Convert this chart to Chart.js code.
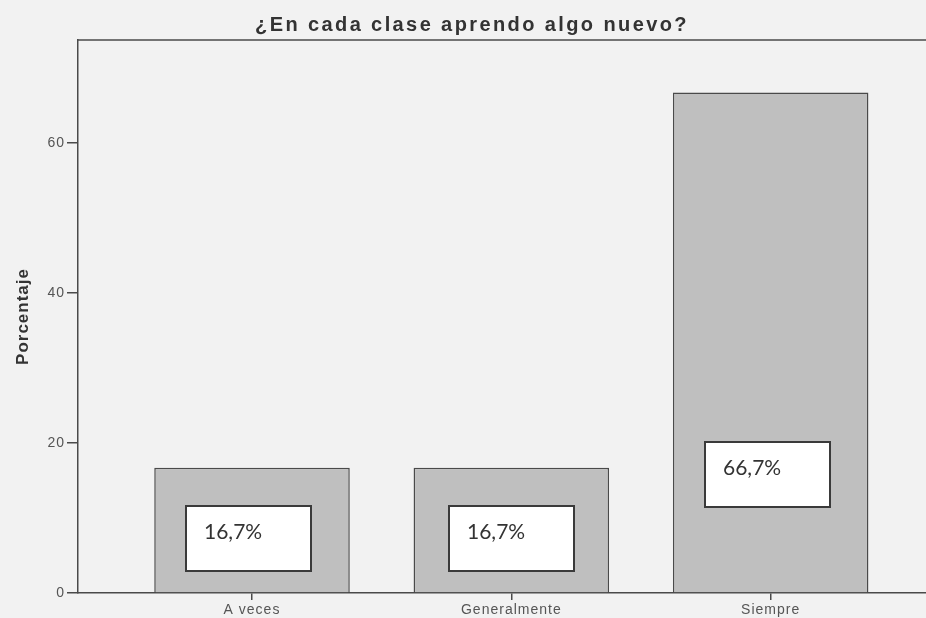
<!DOCTYPE html>
<html>
<head>
<meta charset="utf-8">
<script src="https://cdn.jsdelivr.net/npm/chart.js@4.4.1/dist/chart.umd.min.js"></script>
<style>
  html, body { margin: 0; padding: 0; background: #f2f2f2; }
  canvas { display: block; }
</style>
</head>
<body>
<canvas id="c" width="926" height="618"></canvas>
<script>
// ---- data ----
const chartTitle = '¿En cada clase aprendo algo nuevo?';
const yAxisTitle = 'Porcentaje';
const categories = ['A veces', 'Generalmente', 'Siempre'];
const percentages = [16.7, 16.7, 66.7];
const yTickValues = [0, 20, 40, 60];

// ---- label box placement (axis units / px), kept separate from data ----
const labelBox = {
  width: 125, height: 65, textInset: 18, baselineOffset: 33,
  centerValues: [7.3, 7.3, 15.8],
  shiftPx: [-4, 0, -3]
};

const FONT = "'Liberation Sans', Arial, Helvetica, sans-serif";
const LINE = '#4a4a4a';

const fmt = v => v.toFixed(1).replace('.', ',') + '%';

const framePlugin = {
  id: 'frame',
  afterInit(chart) {
    const tb = chart.titleBlock;
    if (tb) {
      const orig = tb.draw.bind(tb);
      tb.draw = function (area) {
        const ctx = chart.ctx;
        ctx.save();
        ctx.letterSpacing = '2.4px';
        orig(area);
        ctx.restore();
      };
    }
  },
  beforeDraw(chart) {
    chart.ctx.letterSpacing = '1px';
  },
  afterDraw(chart) {
    const ctx = chart.ctx;
    const a = chart.chartArea;
    ctx.save();
    ctx.strokeStyle = LINE;
    ctx.lineWidth = 1.5;
    ctx.beginPath();
    ctx.moveTo(a.left, a.top);
    ctx.lineTo(a.right, a.top);
    ctx.stroke();

    // percentage boxes
    ctx.letterSpacing = '0px';
    const meta = chart.getDatasetMeta(0);
    const ys = chart.scales.y;
    meta.data.forEach((el, i) => {
      const cx = el.x + labelBox.shiftPx[i];
      const cy = ys.getPixelForValue(labelBox.centerValues[i]);
      const left = Math.round(cx - labelBox.width / 2);
      const top = Math.round(cy - labelBox.height / 2);
      ctx.fillStyle = '#ffffff';
      ctx.fillRect(left, top, labelBox.width, labelBox.height);
      ctx.strokeStyle = '#3a3a3a';
      ctx.lineWidth = 2;
      ctx.strokeRect(left, top, labelBox.width, labelBox.height);
      ctx.fillStyle = '#333333';
      ctx.font = "21px Lato, 'Open Sans', sans-serif";
      ctx.textAlign = 'left';
      ctx.textBaseline = 'alphabetic';
      ctx.fillText(fmt(percentages[i]), left + labelBox.textInset, top + labelBox.baselineOffset);
    });
    ctx.restore();
    ctx.letterSpacing = '0px';
  }
};

new Chart(document.getElementById('c'), {
  type: 'bar',
  data: {
    datasets: [{
      label: yAxisTitle,
      data: categories.map((c, i) => ({ x: i + 1, y: percentages[i] })),
      backgroundColor: '#bfbfbf',
      borderColor: LINE,
      borderWidth: 1.5,
      barPercentage: 0.754,
      categoryPercentage: 1
    }]
  },
  options: {
    responsive: false,
    animation: false,
    devicePixelRatio: 1,
    layout: { padding: { left: 18, right: 0, top: 0, bottom: 0 } },
    plugins: {
      legend: { display: false },
      tooltip: { enabled: false },
      title: {
        display: true,
        text: chartTitle,
        color: '#333',
        font: { family: FONT, size: 20, weight: 'bold' },
        padding: { top: 13, bottom: 3 }
      }
    },
    scales: {
      x: {
        type: 'linear',
        offset: false,
        min: 0.329,
        max: 3.599,
        afterBuildTicks: s => { s.ticks = categories.map((c, i) => ({ value: i + 1 })); },
        afterFit: s => { s.height = 25; },
        ticks: {
          autoSkip: false,
          maxRotation: 0,
          padding: 2,
          color: '#555',
          font: { family: FONT, size: 14 },
          callback: v => categories[v - 1]
        },
        grid: { offset: false, drawOnChartArea: false, drawTicks: true, tickLength: 7, color: LINE, lineWidth: 1.5 },
        border: { display: true, color: LINE, width: 1.5 }
      },
      y: {
        min: 0,
        max: 73.7,
        afterBuildTicks: s => { s.ticks = yTickValues.map(v => ({ value: v })); },
        afterFit: s => { s.width = 60; },
        ticks: {
          padding: 2,
          color: '#555',
          font: { family: FONT, size: 14 }
        },
        grid: { drawOnChartArea: false, drawTicks: true, tickLength: 11, color: LINE, lineWidth: 1.5 },
        border: { display: true, color: LINE, width: 1.5 },
        title: {
          display: true,
          text: yAxisTitle,
          color: '#333',
          font: { family: FONT, size: 17, weight: 'bold' },
          padding: { top: -5, bottom: 0 }
        }
      }
    }
  },
  plugins: [framePlugin]
});
</script>
</body>
</html>
